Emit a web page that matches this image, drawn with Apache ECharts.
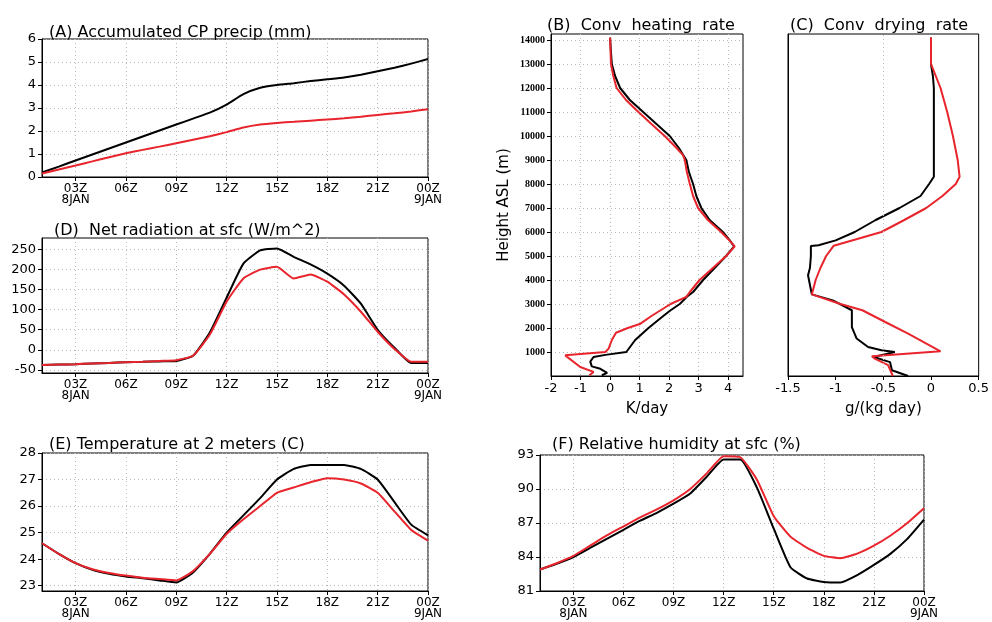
<!DOCTYPE html>
<html>
<head>
<meta charset="utf-8">
<script src="https://cdn.jsdelivr.net/npm/echarts@6/dist/echarts.min.js"></script>
<style>
html, body { margin: 0; padding: 0; background: #fff; }
#main { width: 992px; height: 622px; }
</style>
</head>
<body>
<div id="main"></div>
<script>
// time axis (hours of 8JAN, 24 = 00Z 9JAN)
var hours = [1,2,3,4,5,6,7,8,9,10,11,12,13,14,15,16,17,18,19,20,21,22,23,24];
var timeTicks = [3,6,9,12,15,18,21,24];
var timeTickLabels = ['03Z','06Z','09Z','12Z','15Z','18Z','21Z','00Z'];
var dayLabels = {3: '8JAN', 24: '9JAN'};

// (A) accumulated CP precip (mm)
var precipBlack = [0.2,0.45,0.72,0.98,1.24,1.5,1.76,2.02,2.28,2.54,2.8,3.15,3.6,3.88,4.0,4.08,4.17,4.25,4.33,4.45,4.6,4.75,4.93,5.13];
var precipRed   = [0.15,0.33,0.5,0.68,0.86,1.03,1.18,1.32,1.47,1.62,1.77,1.95,2.15,2.28,2.35,2.4,2.45,2.5,2.55,2.62,2.7,2.77,2.85,2.95];

// (D) net radiation at sfc (W/m^2)
var radBlack = [-38,-37,-36,-34,-33,-31,-30,-29,-28,-15,43,130,215,248,253,232,213,190,160,115,50,5,-33,-33];
var radRed   = [-38,-37,-36,-34,-33,-31,-30,-28,-26,-15,38,120,178,200,207,178,188,170,138,95,45,2,-30,-30];

// (E) temperature at 2 m (C)
var tempBlack = [24.6,24.2,23.85,23.6,23.45,23.35,23.28,23.2,23.12,23.5,24.2,25.0,25.65,26.3,27.0,27.4,27.55,27.55,27.55,27.4,27.0,26.15,25.3,24.9];
var tempRed   = [24.6,24.2,23.85,23.62,23.48,23.38,23.3,23.25,23.2,23.55,24.2,24.95,25.5,26.0,26.5,26.7,26.9,27.05,27.0,26.85,26.5,25.8,25.1,24.7];

// (F) relative humidity at sfc (%)
var rhBlack = [82.9,83.4,84.0,84.8,85.6,86.4,87.2,87.9,88.7,89.6,91.1,92.6,92.6,90.1,86.5,83.1,82.1,81.8,81.75,82.4,83.3,84.3,85.6,87.3];
var rhRed   = [82.9,83.45,84.1,85.0,85.9,86.7,87.5,88.2,89.0,90.0,91.4,92.9,92.8,90.8,87.6,85.8,84.8,84.1,83.9,84.3,85.0,85.9,87.0,88.3];

// (B) conv heating rate (K/day) against height (m)
var heatHgtBlack = [14100,13500,13000,12500,12000,11500,11000,10500,10000,9500,9000,8500,8000,7500,7000,6500,6000,5700,5400,5000,4500,4000,3500,3300,3000,2740,2500,2000,1500,1000,880,790,600,400,300,130,30];
var heatBlack    = [0.0,0.03,0.06,0.17,0.34,0.67,1.12,1.57,2.02,2.33,2.58,2.67,2.81,2.92,3.09,3.37,3.82,4.02,4.2,3.93,3.54,3.15,2.81,2.6,2.36,2.05,1.8,1.3,0.85,0.55,-0.16,-0.56,-0.67,-0.62,-0.33,-0.1,-0.28];
var heatHgtRed   = [14100,13000,12500,12000,11500,11000,10500,10000,9500,9200,9000,8500,8000,7500,7000,6500,6000,5700,5400,5000,4500,4000,3500,3300,3000,2500,2180,2000,1800,1500,1140,1000,860,375,170,30];
var heatRed      = [0.0,0.03,0.11,0.22,0.54,0.96,1.4,1.85,2.25,2.47,2.53,2.6,2.7,2.81,2.98,3.31,3.76,4.0,4.22,3.93,3.48,3.03,2.7,2.58,2.05,1.4,1.03,0.6,0.2,0.06,-0.05,-0.16,-1.52,-1.01,-0.56,-0.7];

// (C) conv drying rate (g/(kg day)) against height (m)
var dryHgtBlack = [14100,13000,12500,12000,8300,8000,7500,7000,6500,6000,5650,5450,5420,5000,4500,4200,4000,3400,3150,2740,2040,1560,1210,1070,1000,790,580,240,0];
var dryBlack    = [0.0,0.0,0.02,0.03,0.03,-0.02,-0.11,-0.33,-0.58,-0.8,-1.0,-1.18,-1.26,-1.26,-1.27,-1.29,-1.28,-1.25,-1.03,-0.83,-0.83,-0.78,-0.66,-0.52,-0.38,-0.6,-0.43,-0.41,-0.24];
var dryHgtRed   = [14100,13000,12500,12000,11000,10000,9000,8300,8000,7500,7000,6500,6000,5430,5000,4500,4000,3400,3000,2740,2250,1770,1030,820,720,450,0];
var dryRed      = [0.0,0.0,0.05,0.1,0.17,0.23,0.28,0.3,0.26,0.12,-0.05,-0.28,-0.52,-1.02,-1.1,-1.16,-1.21,-1.25,-0.95,-0.72,-0.48,-0.24,0.1,-0.62,-0.59,-0.45,-0.4];

var heightTicks = [1000,2000,3000,4000,5000,6000,7000,8000,9000,10000,11000,12000,13000,14000];
var heatTicks = [-2,-1,0,1,2,3,4];

var BLACK = '#000000';
var RED = '#e8242c';
var FONT = 'DejaVu Sans';

function pairs(xs, ys) {
    return xs.map(function (x, i) { return [x, ys[i]]; });
}

var dotted = { show: true, lineStyle: { color: '#b8b8b8', width: 1, type: [1, 3] } };
var axisLineStyle = { show: true, onZero: false, lineStyle: { color: '#000', width: 1 } };
var tickOut = { show: true, length: 4, inside: false, lineStyle: { color: '#000' } };

function timeXAxis(gi) {
    return {
        gridIndex: gi, type: 'value', min: 1, max: 24,
        axisLine: axisLineStyle,
        axisTick: Object.assign({ customValues: timeTicks }, tickOut),
        axisLabel: {
            customValues: timeTicks,
            fontFamily: FONT, fontSize: 12, color: '#000', margin: 6, lineHeight: 11,
            formatter: function (v) {
                var s = timeTickLabels[timeTicks.indexOf(v)];
                return dayLabels[v] ? s + '\n' + dayLabels[v] : s;
            }
        },
        splitLine: dotted
    };
}

function valueYAxis(gi, min, max, ticks) {
    return {
        gridIndex: gi, type: 'value', min: min, max: max,
        axisLine: axisLineStyle,
        axisTick: Object.assign({ customValues: ticks }, tickOut),
        axisLabel: { customValues: ticks, fontFamily: FONT, fontSize: 13, color: '#000', margin: 6 },
        splitLine: dotted
    };
}

function line(name, xi, yi, data, color) {
    return {
        name: name, type: 'line', xAxisIndex: xi, yAxisIndex: yi,
        data: data, showSymbol: false, symbol: 'none', animation: false,
        lineStyle: { color: color, width: 2 }, z: color === RED ? 3 : 2
    };
}

// time series get a light smoothing
function tline(name, xi, data, color) {
    return Object.assign(line(name, xi, xi, data, color), { smooth: 0.15 });
}

var titleStyle = { fontFamily: FONT, fontSize: 16, fontWeight: 'normal', color: '#000' };

var charts = echarts.init(document.getElementById('main'));
var option = {
    backgroundColor: '#fff',
    animation: false,
    title: [
        { text: '(A) Accumulated CP precip (mm)', left: 44, top: 20, textStyle: titleStyle },
        { text: '(D)  Net radiation at sfc (W/m^2)', left: 49, top: 218, textStyle: titleStyle },
        { text: '(E) Temperature at 2 meters (C)', left: 44, top: 432, textStyle: titleStyle },
        { text: '(F) Relative humidity at sfc (%)', left: 547, top: 432, textStyle: titleStyle },
        { text: '(B)  Conv  heating  rate', left: 542, top: 13, textStyle: titleStyle },
        { text: '(C)  Conv  drying  rate', left: 785, top: 13, textStyle: titleStyle }
    ],
    grid: [
        { left: 42, top: 39, width: 386, height: 138, show: true, borderColor: '#000', borderWidth: 1 },
        { left: 42, top: 238, width: 386, height: 135, show: true, borderColor: '#000', borderWidth: 1 },
        { left: 42, top: 453, width: 386, height: 138, show: true, borderColor: '#000', borderWidth: 1 },
        { left: 540, top: 455, width: 384, height: 136, show: true, borderColor: '#000', borderWidth: 1 },
        { left: 551, top: 34, width: 192, height: 342, show: true, borderColor: '#000', borderWidth: 1 },
        { left: 788, top: 34, width: 194, height: 342, show: true, borderColor: '#000', borderWidth: 1 }
    ],
    xAxis: [
        timeXAxis(0), timeXAxis(1), timeXAxis(2), timeXAxis(3),
        {
            gridIndex: 4, type: 'value', min: -2, max: 4.5,
            name: 'K/day', nameLocation: 'middle', nameGap: 26,
            nameTextStyle: { fontFamily: FONT, fontSize: 15, color: '#000' },
            axisLine: axisLineStyle,
            axisTick: Object.assign({ customValues: heatTicks }, tickOut),
            axisLabel: { customValues: heatTicks, fontFamily: FONT, fontSize: 13, color: '#000', margin: 6 },
            splitLine: dotted
        },
        {
            gridIndex: 5, type: 'value', min: -1.5, max: 0.5, interval: 0.5,
            name: 'g/(kg day)', nameLocation: 'middle', nameGap: 26,
            nameTextStyle: { fontFamily: FONT, fontSize: 15, color: '#000' },
            axisLine: axisLineStyle,
            axisTick: tickOut,
            axisLabel: { fontFamily: FONT, fontSize: 13, color: '#000', margin: 6 },
            splitLine: { show: false }
        }
    ],
    yAxis: [
        valueYAxis(0, 0, 6, [0,1,2,3,4,5,6]),
        valueYAxis(1, -58, 279, [-50,0,50,100,150,200,250]),
        valueYAxis(2, 22.8, 28, [23,24,25,26,27,28]),
        valueYAxis(3, 81, 93, [81,84,87,90,93]),
        {
            gridIndex: 4, type: 'value', min: 0, max: 14250,
            name: 'Height ASL (m)', nameLocation: 'middle', nameGap: 39,
            nameTextStyle: { fontFamily: FONT, fontSize: 15, color: '#000' },
            axisLine: axisLineStyle,
            axisTick: Object.assign({ customValues: heightTicks }, tickOut),
            axisLabel: {
                customValues: heightTicks, fontFamily: 'Liberation Sans Narrow', fontSize: 10,
                fontWeight: 'bold', color: '#000', margin: 6,
                formatter: function (v) { return String(v); }
            },
            splitLine: dotted
        },
        {
            gridIndex: 5, type: 'value', min: 0, max: 14250,
            axisLine: axisLineStyle,
            axisTick: { show: false },
            axisLabel: { show: false },
            splitLine: { show: false }
        }
    ],
    series: [
        tline('ctl', 0, pairs(hours, precipBlack), BLACK),
        tline('exp', 0, pairs(hours, precipRed), RED),
        tline('ctl', 1, pairs(hours, radBlack), BLACK),
        tline('exp', 1, pairs(hours, radRed), RED),
        tline('ctl', 2, pairs(hours, tempBlack), BLACK),
        tline('exp', 2, pairs(hours, tempRed), RED),
        tline('ctl', 3, pairs(hours, rhBlack), BLACK),
        tline('exp', 3, pairs(hours, rhRed), RED),
        line('ctl', 4, 4, pairs(heatBlack, heatHgtBlack), BLACK),
        line('exp', 4, 4, pairs(heatRed, heatHgtRed), RED),
        Object.assign(line('ctl', 5, 5, pairs(dryBlack, dryHgtBlack), BLACK), {
            markLine: {
                silent: true, symbol: 'none', label: { show: false },
                lineStyle: { color: '#b8b8b8', width: 1, type: [1, 3] },
                data: [{ xAxis: -0.5 }]
            }
        }),
        line('exp', 5, 5, pairs(dryRed, dryHgtRed), RED)
    ]
};
//渲染图表
if (option && typeof option === "object") {
    charts.setOption(option, true);
}
</script>
</body>
</html>
